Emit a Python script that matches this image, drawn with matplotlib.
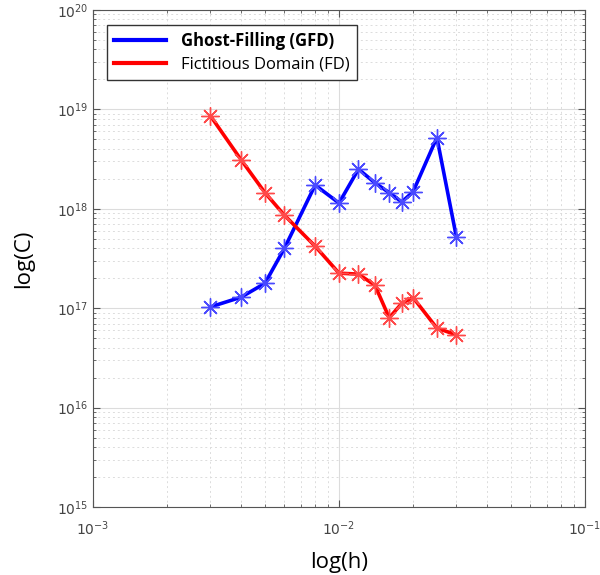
import numpy as np
import matplotlib
matplotlib.use("Agg")
import matplotlib.pyplot as plt

# donnees
h = [0.003, 0.004, 0.005, 0.006, 0.008, 0.010, 0.012, 0.014, 0.016, 0.018, 0.020, 0.025, 0.030]
C_gfd = [1.03e17, 1.29e17, 1.78e17, 4.0e17, 1.73e18, 1.14e18, 2.5e18, 1.82e18, 1.45e18,
         1.17e18, 1.48e18, 5.2e18, 5.2e17]
C_fd = [8.6e18, 3.1e18, 1.45e18, 8.6e17, 4.2e17, 2.25e17, 2.2e17, 1.7e17, 8.0e16,
        1.12e17, 1.28e17, 6.3e16, 5.4e16]
labels = ["Ghost-Filling (GFD)", "Fictitious Domain (FD)"]

fig = plt.figure(figsize=(6, 5.75), dpi=100)
ax = fig.add_axes([0.155, 0.118, 0.82, 0.865])

ast = (8, 2, 0)
l1, = ax.plot(h, C_gfd, color='#0000ff', lw=2.6, marker=ast, ms=13, mew=1.0,
              mec='#4a4aff', label=labels[0])
l2, = ax.plot(h, C_fd, color='#ff0000', lw=2.6, marker=ast, ms=13, mew=1.0,
              mec='#ff4a4a', label=labels[1])

ax.set_xscale('log')
ax.set_yscale('log')
ax.set_xlim(1e-3, 1e-1)
ax.set_ylim(1e15, 1e20)

ax.grid(True, which='major', color='#dcdcdc', lw=0.8, ls='-')
ax.grid(True, which='minor', color='#dcdcdc', lw=0.7, ls=(0, (2, 3)))
ax.set_axisbelow(True)

ax.tick_params(which='both', direction='in', top=True, right=True, colors='#555555',
               labelcolor='#444444', labelsize=10)
ax.tick_params(which='major', length=5)
ax.tick_params(which='minor', length=2.5)
ax.tick_params(axis='x', which='major', pad=9)
for s in ax.spines.values():
    s.set_color('#555555')
    s.set_linewidth(0.8)

ax.set_xlabel('log(h)', fontsize=16, family='Open Sans', labelpad=10)
ax.set_ylabel('log(C)', fontsize=16, family='Open Sans', labelpad=16)

leg = ax.legend(loc='upper left', bbox_to_anchor=(0.028, 0.97), borderaxespad=0,
                fancybox=False, edgecolor='#333333', framealpha=1, handlelength=3.1,
                handletextpad=0.9, prop={'family': 'Open Sans', 'size': 12},
                borderpad=0.45, labelspacing=0.4)
leg.get_frame().set_linewidth(1.0)
leg.get_texts()[0].set_fontweight('bold')
for lh in leg.legend_handles:
    lh.set_marker('')
    lh.set_linewidth(3)

fig.savefig('out.png', dpi=100)
